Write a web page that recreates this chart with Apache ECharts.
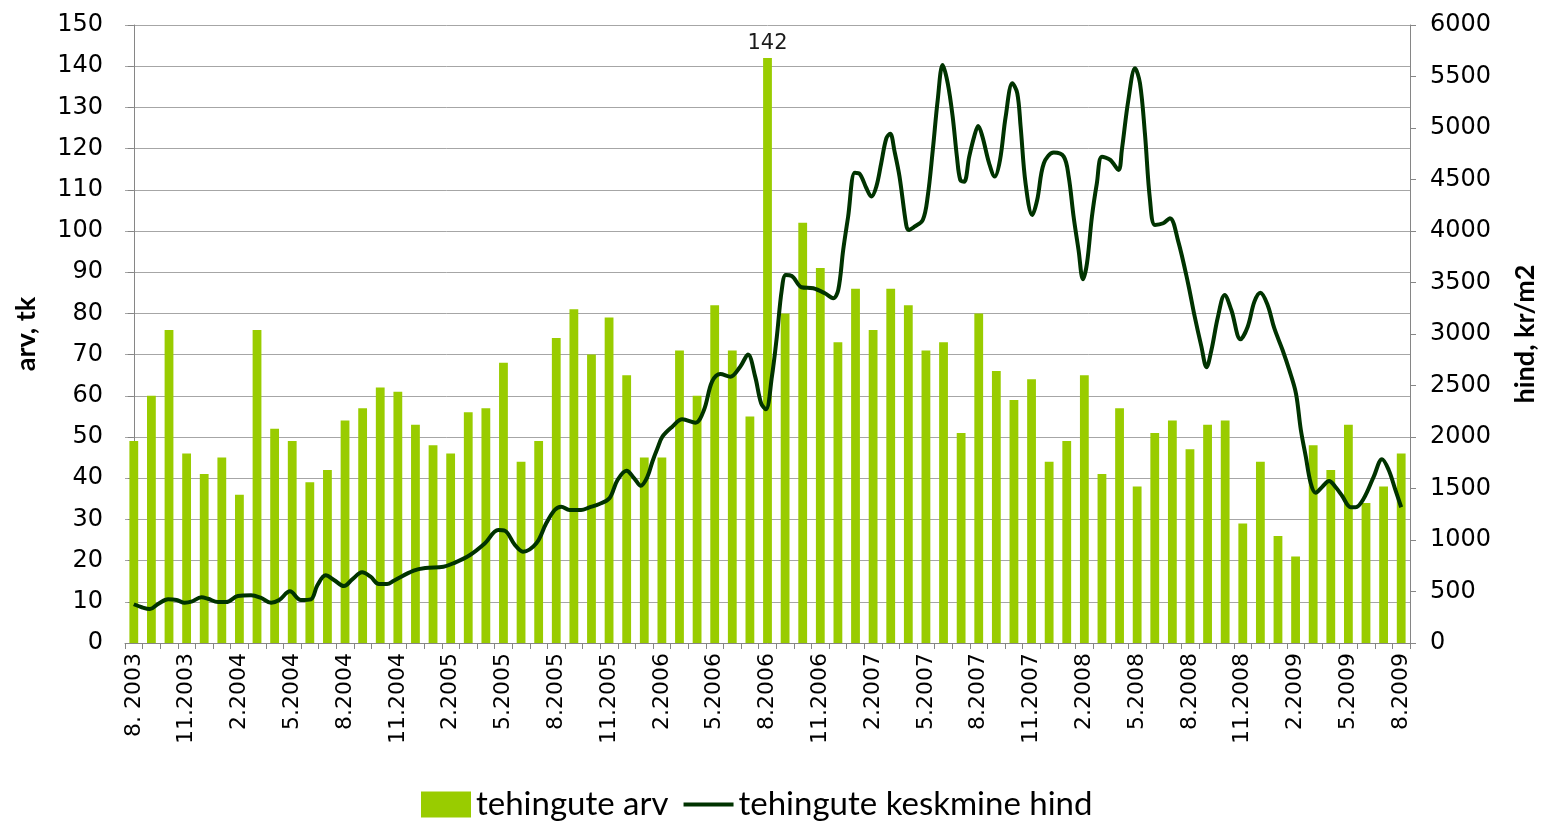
<!DOCTYPE html>
<html>
<head>
<meta charset="utf-8">
<script src="https://cdn.jsdelivr.net/npm/echarts@6/dist/echarts.min.js"></script>
<style>
html,body{margin:0;padding:0;background:#fff;overflow:hidden;}
#chart{width:1547px;height:822px;}
</style>
</head>
<body>
<div id="chart"></div>
<script>
// ---- data ----
const months = [
  "8. 2003","9.2003","10.2003","11.2003","12.2003",
  "1.2004","2.2004","3.2004","4.2004","5.2004","6.2004","7.2004","8.2004","9.2004","10.2004","11.2004","12.2004",
  "1.2005","2.2005","3.2005","4.2005","5.2005","6.2005","7.2005","8.2005","9.2005","10.2005","11.2005","12.2005",
  "1.2006","2.2006","3.2006","4.2006","5.2006","6.2006","7.2006","8.2006","9.2006","10.2006","11.2006","12.2006",
  "1.2007","2.2007","3.2007","4.2007","5.2007","6.2007","7.2007","8.2007","9.2007","10.2007","11.2007","12.2007",
  "1.2008","2.2008","3.2008","4.2008","5.2008","6.2008","7.2008","8.2008","9.2008","10.2008","11.2008","12.2008",
  "1.2009","2.2009","3.2009","4.2009","5.2009","6.2009","7.2009","8.2009"
];
const dealCount = [
  49, 60, 76, 46, 41, 45, 36, 76, 52, 49,
  39, 42, 54, 57, 62, 61, 53, 48, 46, 56,
  57, 68, 44, 49, 74, 81, 70, 79, 65, 45,
  45, 71, 60, 82, 71, 55, 142, 80, 102, 91,
  73, 86, 76, 86, 82, 71, 73, 51, 80, 66,
  59, 64, 44, 49, 65, 41, 57, 38, 51, 54,
  47, 53, 54, 29, 44, 26, 21, 48, 42, 53,
  34, 38, 46
];
// average price: position in months from 8.2003 (fractional), and value kr/m2
const priceT = [
  0, 0.45, 0.92, 1.38, 1.95, 2.43, 2.89, 3.27, 3.84, 4.21,
  4.78, 5.25, 5.91, 6.66, 7.23, 7.80, 8.26, 8.87, 9.49, 10.06,
  10.43, 10.90, 11.37, 11.94, 12.41, 12.97, 13.45, 13.92, 14.39, 14.77,
  15.90, 16.56, 17.59, 18.16, 19.10, 19.95, 20.70, 21.08, 21.65, 22.11,
  22.87, 23.43, 23.91, 24.28, 24.75, 25.41, 25.88, 26.45, 27.02, 27.48,
  27.99, 28.43, 28.80, 29.18, 29.46, 29.75, 30.03, 30.59, 31.16, 31.91,
  32.39, 32.85, 33.32, 33.89, 34.45, 34.89, 35.30, 35.64, 35.91, 36.25,
  36.53, 36.81, 37.04, 37.38, 37.94, 38.60, 39.26, 39.73, 40.02, 40.30,
  40.58, 40.96, 41.24, 41.62, 41.90, 42.18, 42.46, 42.75, 42.97, 43.22,
  43.50, 43.88, 44.01, 44.35, 44.82, 45.10, 45.39, 45.67, 45.95, 46.24,
  46.52, 46.76, 46.95, 47.17, 47.46, 47.74, 47.97, 48.21, 48.59, 48.91,
  49.21, 49.53, 49.91, 50.19, 50.38, 50.66, 51.04, 51.32, 51.70, 52.26,
  52.83, 53.11, 53.39, 53.67, 53.92, 54.15, 54.43, 54.71, 55.00, 55.47,
  55.94, 56.13, 56.50, 56.88, 57.16, 57.44, 57.73, 58.01, 58.48, 58.86,
  59.33, 59.89, 60.27, 60.65, 60.94, 61.22, 61.59, 61.97, 62.35, 62.87,
  63.28, 63.66, 64.00, 64.41, 64.79, 65.26, 65.64, 66.02, 66.30, 66.58,
  66.86, 67.14, 67.52, 67.90, 68.28, 68.65, 69.13, 69.41, 69.88, 70.44,
  70.91, 71.29, 71.67, 72.00
];
const priceVal = [
  376, 347, 330, 379, 424, 417, 391, 401, 444, 430,
  398, 398, 456, 463, 437, 391, 417, 502, 417, 424,
  560, 657, 612, 553, 618, 686, 644, 573, 573, 605,
  702, 728, 741, 774, 854, 968, 1097, 1090, 952, 887,
  968, 1162, 1291, 1324, 1291, 1291, 1317, 1350, 1405, 1583,
  1673, 1599, 1527, 1615, 1760, 1890, 2003, 2100, 2172, 2139,
  2262, 2537, 2612, 2586, 2683, 2800, 2586, 2327, 2269, 2586,
  2974, 3428, 3573, 3564, 3454, 3444, 3395, 3347, 3428, 3816,
  4139, 4566, 4554, 4415, 4334, 4430, 4658, 4900, 4945, 4770,
  4528, 4059, 4010, 4042, 4107, 4334, 4787, 5272, 5612, 5434,
  5110, 4722, 4496, 4479, 4722, 4916, 5020, 4916, 4658, 4528,
  4690, 5110, 5434, 5337, 5013, 4463, 4156, 4301, 4658, 4761,
  4722, 4528, 4139, 3816, 3531, 3687, 4139, 4463, 4722, 4690,
  4593, 4787, 5272, 5580, 5434, 4949, 4301, 4059, 4075, 4124,
  3902, 3493, 3168, 2877, 2677, 2845, 3168, 3379, 3233, 2949,
  3071, 3314, 3401, 3282, 3056, 2845, 2651, 2424, 2068, 1809,
  1551, 1459, 1518, 1573, 1512, 1427, 1318, 1318, 1405, 1615,
  1784, 1680, 1486, 1318
];
const leftTicks = { min: 0, max: 150, interval: 10 };
const rightTicks = { min: 0, max: 6000, interval: 500 };
const seriesNames = ["tehingute arv", "tehingute keskmine hind"];
const axisNames = ["arv, tk", "hind, kr/m2"];

// ---- chart ----
const maxCount = Math.max(...dealCount);
const barData = dealCount.map(v => v === maxCount
  ? { value: v, label: { show: true, position: 'top', distance: 4, color: '#1a1a1a', fontSize: 21, fontFamily: 'DejaVu Sans' } }
  : v);
const lineData = priceT.map((t, i) => [t, priceVal[i]]);

const axisGray = '#868686';
const tickFont = 'DejaVu Sans';

const chart = echarts.init(document.getElementById('chart'), null, { renderer: 'canvas' });
chart.setOption({
  animation: false,
  backgroundColor: '#ffffff',
  grid: { left: 125, right: 119, top: 25, bottom: 179, containLabel: false },
  legend: {
    top: 783,
    left: 416,
    itemWidth: 50,
    itemHeight: 26,
    itemGap: 15,
    textStyle: { fontFamily: 'Lato', fontSize: 33, color: '#000' },
    data: [
      { name: seriesNames[0], icon: 'rect' },
      { name: seriesNames[1], icon: 'path://M0,0L50,0L50,4L0,4Z' }
    ]
  },
  xAxis: [
    {
      type: 'category',
      data: months,
      boundaryGap: true,
      axisLine: { lineStyle: { color: axisGray, width: 1 } },
      axisTick: { show: true, interval: 0, length: 6, lineStyle: { color: axisGray } },
      axisLabel: {
        interval: 2,
        rotate: 90,
        margin: 10,
        fontFamily: tickFont,
        fontSize: 22,
        color: '#000'
      },
      splitLine: { show: false }
    },
    {
      type: 'value',
      min: -0.5,
      max: 72.5,
      show: false
    }
  ],
  yAxis: [
    {
      type: 'value',
      min: leftTicks.min, max: leftTicks.max, interval: leftTicks.interval,
      name: axisNames[0],
      nameLocation: 'middle',
      nameRotate: 90,
      nameGap: 85,
      nameTextStyle: { fontFamily: 'Lato', fontWeight: 'bold', fontSize: 27, color: '#000' },
      axisLine: { show: true, lineStyle: { color: axisGray } },
      axisTick: { show: true, length: 6, lineStyle: { color: axisGray } },
      axisLabel: { fontFamily: tickFont, fontSize: 24, color: '#000', margin: 22 },
      splitLine: { show: true, lineStyle: { color: '#a6a6a6', width: 1 } }
    },
    {
      type: 'value',
      position: 'right',
      min: rightTicks.min, max: rightTicks.max, interval: rightTicks.interval,
      name: axisNames[1],
      nameLocation: 'middle',
      nameRotate: 90,
      nameGap: 102,
      nameTextStyle: { fontFamily: 'Lato', fontWeight: 'bold', fontSize: 27, color: '#000' },
      axisLine: { show: true, lineStyle: { color: axisGray } },
      axisTick: { show: true, length: 6, lineStyle: { color: axisGray } },
      axisLabel: { fontFamily: tickFont, fontSize: 24, color: '#000', margin: 20, formatter: v => String(v) },
      splitLine: { show: false }
    }
  ],
  series: [
    {
      name: seriesNames[0],
      type: 'bar',
      xAxisIndex: 0,
      yAxisIndex: 0,
      data: barData,
      barWidth: '50%',
      itemStyle: { color: '#99CC00' },
      z: 2
    },
    {
      name: seriesNames[1],
      type: 'line',
      xAxisIndex: 1,
      yAxisIndex: 1,
      data: lineData,
      symbol: 'none',
      showSymbol: false,
      smooth: 0.35,
      lineStyle: { color: '#003300', width: 4 },
      itemStyle: { color: '#003300' },
      z: 3
    }
  ]
});
</script>
</body>
</html>
